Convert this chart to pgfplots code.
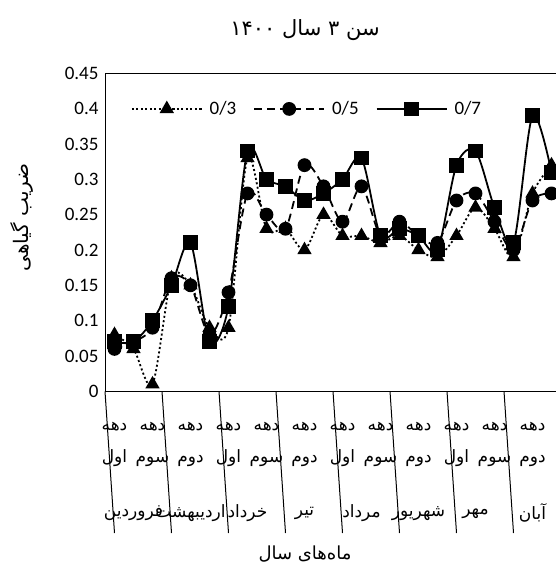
\documentclass[border=0pt]{standalone}
\usepackage{fontspec}
\setmainfont{Carlito}
\newfontfamily\fa[Script=Arabic]{DejaVu Sans}
\TeXXeTstate=1
\usepackage{pgfplots}
\usepackage{pgfplotstable}
\pgfplotsset{compat=1.18}
\newcommand{\fatext}[1]{{\fa\beginR #1\endR}}

% crop coefficient per ten-day period (dekad), three levels
\pgfplotstableread{
cat  a    b    c
0    0.08 0.06 0.07
1    0.06 0.07 0.07
2    0.01 0.09 0.10
3    0.16 0.16 0.15
4    0.15 0.15 0.21
5    0.09 0.08 0.07
6    0.09 0.14 0.12
7    0.33 0.28 0.34
8    0.23 0.25 0.30
9    0.23 0.23 0.29
10   0.20 0.32 0.27
11   0.25 0.29 0.28
12   0.22 0.24 0.30
13   0.22 0.29 0.33
14   0.21 0.22 0.22
15   0.22 0.24 0.23
16   0.20 0.22 0.22
17   0.19 0.21 0.20
18   0.22 0.27 0.32
19   0.26 0.28 0.34
20   0.23 0.24 0.26
21   0.19 0.20 0.21
22   0.28 0.27 0.39
23   0.32 0.28 0.31
}\kc

\begin{document}
\begin{tikzpicture}
\begin{axis}[
  name=ax,
  scale only axis,
  width=456pt, height=318pt,
  xmin=-0.5, xmax=23.5,
  ymin=0, ymax=0.45,
  ytick={0,0.05,...,0.45},
  xtick={0,2,...,22},
  xticklabels={
    {\fatext{دهه}\\\fatext{اول}},
    {\fatext{دهه}\\\fatext{سوم}},
    {\fatext{دهه}\\\fatext{دوم}},
    {\fatext{دهه}\\\fatext{اول}},
    {\fatext{دهه}\\\fatext{سوم}},
    {\fatext{دهه}\\\fatext{دوم}},
    {\fatext{دهه}\\\fatext{اول}},
    {\fatext{دهه}\\\fatext{سوم}},
    {\fatext{دهه}\\\fatext{دوم}},
    {\fatext{دهه}\\\fatext{اول}},
    {\fatext{دهه}\\\fatext{سوم}},
    {\fatext{دهه}\\\fatext{دوم}}},
  xticklabel style={align=center, font=\fontsize{17}{32}\selectfont, anchor=north, yshift=-27pt},
  major tick length=0pt,
  /pgf/number format/assume math mode=true,
  yticklabel style={/pgf/number format/fixed, /pgf/number format/precision=2,
    font=\fontsize{19}{22}\selectfont, xshift=-3pt},
  axis line style={line width=1pt},
  clip=false,
  legend columns=3,
  legend style={draw=none, fill=none, at={(0.443,0.888)}, anchor=center,
    font=\fontsize{19}{22}\selectfont,
    /tikz/every even column/.append style={column sep=15pt},
    /tikz/every odd column/.append style={column sep=5pt}},
  legend image code/.code={
    \draw[mark repeat=2, mark phase=2] plot coordinates {(0pt,0pt) (35pt,0pt) (70pt,0pt)};},
  every axis plot/.append style={black, line width=1.8pt},
]
\addplot[densely dotted, dash pattern=on 2pt off 2.5pt, smooth, tension=0.5,
  mark=triangle*, mark size=6.5pt, mark options={solid, fill=black}]
  table[x=cat, y=a] {\kc};
\addlegendentry{0/3}
\addplot[dash pattern=on 8pt off 5pt, smooth, tension=0.5,
  mark=*, mark size=6pt, mark options={solid, fill=black}]
  table[x=cat, y=b] {\kc};
\addlegendentry{0/5}
\addplot[solid, smooth, tension=0.5,
  mark=square*, mark size=6.5pt, mark options={solid, fill=black}]
  table[x=cat, y=c] {\kc};
\addlegendentry{0/7}

% month separators below the category axis
\pgfplotsinvokeforeach{-0.5,2.5,5.5,8.5,11.5,14.5,17.5,20.5,23.5}{
  \draw[line width=1pt] (axis cs:#1,0) -- ++(0,-141.7pt);
}
% month names
\begin{scope}[every node/.style={font=\fontsize{17}{20}\selectfont, yshift=-122pt}]
\node at (axis cs:1,0)  {\fatext{فروردین}};
\node at (axis cs:4,0)  {\fatext{اردیبهشت}};
\node at (axis cs:7,0)  {\fatext{خرداد}};
\node at (axis cs:10,0) {\fatext{تیر}};
\node at (axis cs:13,0) {\fatext{مرداد}};
\node at (axis cs:16,0) {\fatext{شهریور}};
\node at (axis cs:19,0) {\fatext{مهر}};
\node at (axis cs:22,0) {\fatext{آبان}};
\end{scope}
\end{axis}

% titles
\node[font=\fontsize{21}{24}\selectfont] at ([shift={(200pt,43pt)}]ax.north west) {\fatext{سن ۳ سال ۱۴۰۰}};
\node[font=\fontsize{20}{23}\selectfont, rotate=90] at ([shift={(-83pt,174pt)}]ax.south west) {\fatext{ضریب گیاهی}};
\node[font=\fontsize{18}{21}\selectfont] at ([shift={(200pt,-163pt)}]ax.south west) {\fatext{ماه‌های سال}};

% page area
\pgfresetboundingbox
\path ([shift={(-105pt,-177.7pt)}]ax.south west) coordinate (bl);
\useasboundingbox (bl) rectangle ++(555pt,569pt);
\end{tikzpicture}
\end{document}
